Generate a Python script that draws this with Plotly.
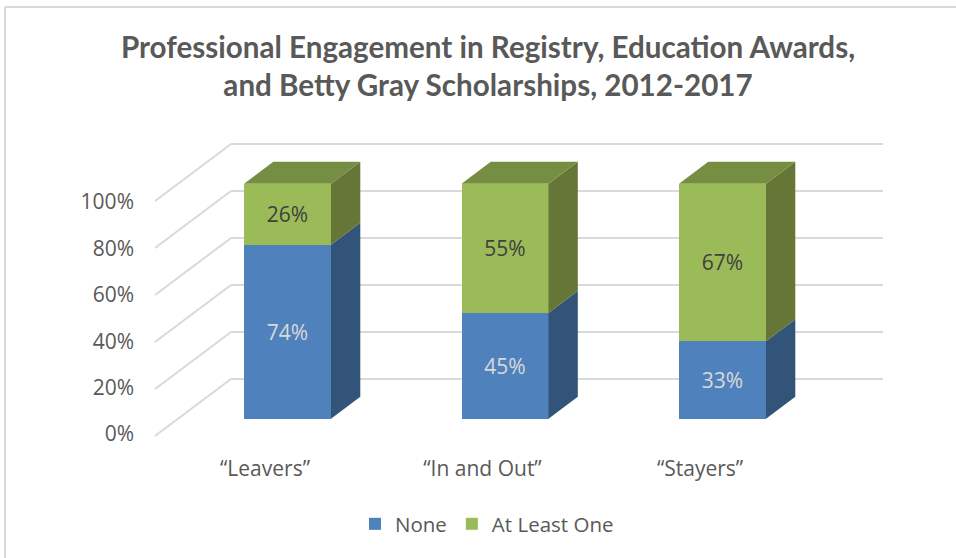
"""Stacked "3D" columns drawn on 2D axes: bars for the fronts, filled polygons for the sides."""

import plotly.graph_objects as go

CATEGORIES = ["\u201cLeavers\u201d", "\u201cIn and Out\u201d", "\u201cStayers\u201d"]
NONE_VALUES = [74, 45, 33]
AT_LEAST_ONE_VALUES = [26, 55, 67]
AXIS_TICKS = [0, 20, 40, 60, 80, 100]

TITLE = "Professional Engagement in Registry, Education Awards,<br>and Betty Gray Scholarships, 2012-2017"
TEXT_GRAY = "#595959"
GRID = "#d9d9d9"
BLUE, BLUE_SIDE = "#4f81bd", "#325479"
GREEN, GREEN_SIDE, GREEN_TOP = "#9bbb59", "#657636", "#768e42"

W, H = 956, 558
PX_PER_CAT = 217.5
PX_PER_PCT = 2.35
X0_PX, Y0_PX = 287.5, 418.7  # where category 0 / 0% fall in the window

BAR_WIDTH = 0.4
BAR_DX, BAR_DY = 29.3 / PX_PER_CAT, 22 / PX_PER_PCT  # depth of a column

# the box behind the columns, in axis units
WALL_LEFT = (231 - X0_PX) / PX_PER_CAT
WALL_RIGHT = (883 - X0_PX) / PX_PER_CAT
WALL_BASE = (Y0_PX - 379) / PX_PER_PCT
WALL_DX, WALL_DY = 76 / PX_PER_CAT, 57 / PX_PER_PCT


def side_polygons(bottoms, values):
    xs, ys = [], []
    for i, (lo, v) in enumerate(zip(bottoms, values)):
        right = i + BAR_WIDTH / 2
        hi = lo + v
        xs += [right, right + BAR_DX, right + BAR_DX, right, None]
        ys += [lo, lo + BAR_DY, hi + BAR_DY, hi, None]
    return xs, ys


def top_polygons(tops):
    xs, ys = [], []
    for i, t in enumerate(tops):
        left, right = i - BAR_WIDTH / 2, i + BAR_WIDTH / 2
        xs += [left, left + BAR_DX, right + BAR_DX, right, None]
        ys += [t, t + BAR_DY, t + BAR_DY, t, None]
    return xs, ys


totals = [a + b for a, b in zip(NONE_VALUES, AT_LEAST_ONE_VALUES)]
positions = list(range(len(CATEGORIES)))

fig = go.Figure()
fig.add_trace(go.Bar(x=positions, y=NONE_VALUES, name="None", width=BAR_WIDTH,
                     marker=dict(color=BLUE, line=dict(width=0)),
                     text=[f"{v}%" for v in NONE_VALUES], textposition="inside",
                     insidetextanchor="middle", textangle=0,
                     textfont=dict(color="#d9d9d9", size=21)))
fig.add_trace(go.Bar(x=positions, y=AT_LEAST_ONE_VALUES, name="At Least One", width=BAR_WIDTH,
                     marker=dict(color=GREEN, line=dict(width=0)),
                     text=[f"{v}%" for v in AT_LEAST_ONE_VALUES], textposition="inside",
                     insidetextanchor="middle", textangle=0,
                     textfont=dict(color="#404040", size=21)))

xs, ys = side_polygons([0] * len(NONE_VALUES), NONE_VALUES)
fig.add_trace(go.Scatter(x=xs, y=ys, mode="lines", fill="toself", fillcolor=BLUE_SIDE,
                         line=dict(width=0), showlegend=False, hoverinfo="skip"))
xs, ys = side_polygons(NONE_VALUES, AT_LEAST_ONE_VALUES)
fig.add_trace(go.Scatter(x=xs, y=ys, mode="lines", fill="toself", fillcolor=GREEN_SIDE,
                         line=dict(width=0), showlegend=False, hoverinfo="skip"))
xs, ys = top_polygons(totals)
fig.add_trace(go.Scatter(x=xs, y=ys, mode="lines", fill="toself", fillcolor=GREEN_TOP,
                         line=dict(width=0), showlegend=False, hoverinfo="skip"))

# invisible traces so the two label axes get drawn
fig.add_trace(go.Scatter(x=positions, y=totals, yaxis="y2", mode="none",
                         showlegend=False, hoverinfo="skip"))
fig.add_trace(go.Scatter(x=positions, y=totals, xaxis="x2", mode="none",
                         showlegend=False, hoverinfo="skip"))

# back wall lines and the diagonals running to the value labels
for t in AXIS_TICKS:
    back = t + WALL_BASE
    fig.add_shape(type="line", layer="below", x0=WALL_LEFT, x1=WALL_RIGHT, y0=back, y1=back,
                  line=dict(color=GRID, width=2))
    fig.add_shape(type="line", layer="below", x0=WALL_LEFT - WALL_DX, x1=WALL_LEFT,
                  y0=back - WALL_DY, y1=back, line=dict(color=GRID, width=2))

# chart frame, cut off by the right and bottom of the picture
fig.add_shape(type="line", xref="paper", yref="paper", x0=5 / W, x1=5 / W, y0=0, y1=1 - 7 / H,
              line=dict(color=GRID, width=2))
fig.add_shape(type="line", xref="paper", yref="paper", x0=5 / W, x1=1, y0=1 - 7 / H, y1=1 - 7 / H,
              line=dict(color=GRID, width=2))

fig.update_layout(
    width=W, height=H, margin=dict(l=0, r=0, t=0, b=0),
    paper_bgcolor="white", plot_bgcolor="rgba(0,0,0,0)",
    font=dict(family="Open Sans", color=TEXT_GRAY, size=20),
    barmode="stack",
    title=dict(text=TITLE, x=488 / W, xanchor="center", y=1 - 58 / H, yanchor="middle",
               font=dict(family="Lato", size=29.6, color=TEXT_GRAY, weight="bold")),
    xaxis=dict(range=[-X0_PX / PX_PER_CAT, (W - X0_PX) / PX_PER_CAT], visible=False, domain=[0, 1]),
    yaxis=dict(range=[(Y0_PX - H) / PX_PER_PCT, Y0_PX / PX_PER_PCT], visible=False, domain=[0, 1]),
    # value labels sit on the front edge of the box
    yaxis2=dict(overlaying="y", anchor="free", position=134 / W, side="left",
                range=[(434 - H) / 2.32, 434 / 2.32],
                tickvals=AXIS_TICKS, ticktext=[f"{t}%" for t in AXIS_TICKS],
                showgrid=False, zeroline=False, showline=False, ticks="",
                tickfont=dict(size=21, color=TEXT_GRAY)),
    # category labels sit left of the columns, as in the 3D projection
    xaxis2=dict(overlaying="x", anchor="free", position=1 - 453.5 / H, side="bottom",
                range=[-265 / PX_PER_CAT, (W - 265) / PX_PER_CAT],
                tickvals=positions, ticktext=CATEGORIES,
                showgrid=False, zeroline=False, showline=False, ticks="",
                tickfont=dict(size=21, color=TEXT_GRAY)),
    legend=dict(orientation="h", x=487 / W, xanchor="center", y=1 - 524 / H, yanchor="middle",
                traceorder="normal", font=dict(size=20.5, color=TEXT_GRAY)),
)

fig.write_html("out.html", config=dict(displayModeBar=False),
               post_script="document.body.style.margin='0';document.body.style.overflow='hidden';")
